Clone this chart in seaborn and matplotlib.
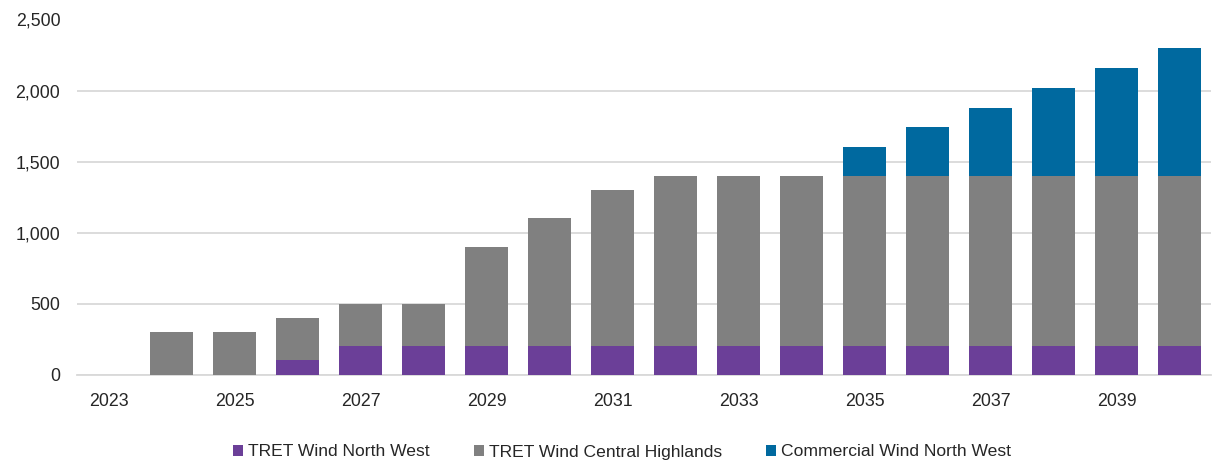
import matplotlib
matplotlib.use("Agg")
import matplotlib.pyplot as plt
from matplotlib.patches import Rectangle
from matplotlib.ticker import FuncFormatter
import pandas as pd
import seaborn as sns

# Installed wind capacity by project (MW)
years = [2023, 2024, 2025, 2026, 2027, 2028, 2029, 2030, 2031,
         2032, 2033, 2034, 2035, 2036, 2037, 2038, 2039, 2040]
tret_north_west = [0, 0, 0, 100, 200, 200, 200, 200, 200,
                   200, 200, 200, 200, 200, 200, 200, 200, 200]
tret_central_highlands = [0, 300, 300, 300, 300, 300, 700, 900, 1100,
                          1200, 1200, 1200, 1200, 1200, 1200, 1200, 1200, 1200]
commercial_north_west = [0, 0, 0, 0, 0, 0, 0, 0, 0,
                         0, 0, 0, 200, 345, 480, 620, 760, 900]

series_names = ["TRET Wind North West", "TRET Wind Central Highlands",
                "Commercial Wind North West"]
series_colors = ["#6B3F98", "#808080", "#00699F"]

df = pd.DataFrame({
    "year": [str(y) for y in years],
    "nw": tret_north_west,
    "ch": tret_central_highlands,
    "cm": commercial_north_west,
})
# cumulative stack heights, drawn from the tallest layer down
df["lvl1"] = df["nw"]
df["lvl2"] = df["nw"] + df["ch"]
df["lvl3"] = df["lvl2"] + df["cm"]

sns.set_theme(style="white")
plt.rcParams["font.family"] = ["Liberation Sans", "DejaVu Sans"]
text_color = "#262626"

fig = plt.figure(figsize=(12.12, 4.62), dpi=100)
ax = fig.add_axes([77 / 1212, 1 - 374.7 / 462, 1134 / 1212, (374.7 - 19.5) / 462])

order = df["year"].tolist()
for col, color in zip(["lvl3", "lvl2", "lvl1"], series_colors[::-1]):
    sns.barplot(data=df, x="year", y=col, order=order, color=color,
                width=0.68, linewidth=0, saturation=1, ax=ax, zorder=3)

ax.set_ylim(0, 2500)
ax.set_xlim(-0.5, len(years) - 0.5)
ax.set_yticks([0, 500, 1000, 1500, 2000, 2500])
ax.yaxis.set_major_formatter(FuncFormatter(lambda v, p: f"{int(v):,}"))
ax.set_xticks(range(0, len(years), 2))
ax.set_xticklabels([str(y) for y in years[::2]])

ax.grid(axis="y", color="#D9D9D9", linewidth=1.3, zorder=0)
ax.set_axisbelow(True)
for side in ["left", "right", "top"]:
    ax.spines[side].set_visible(False)
ax.spines["bottom"].set_color("#D9D9D9")
ax.spines["bottom"].set_linewidth(1.3)

ax.tick_params(axis="y", length=0, pad=12, labelsize=12.8, labelcolor=text_color)
ax.tick_params(axis="x", length=0, pad=13, labelsize=12.8, labelcolor=text_color)
ax.set_xlabel("")
ax.set_ylabel("")

handles = [Rectangle((0, 0), 1, 1, facecolor=c, edgecolor="none") for c in series_colors]
fig.legend(handles, series_names, loc="center", bbox_to_anchor=(622 / 1212, 1 - 452 / 462),
           ncol=3, frameon=False, fontsize=12.6, handlelength=0.58, handleheight=0.58,
           handletextpad=0.3, columnspacing=2.5, labelcolor=text_color)

fig.savefig("out.png", dpi=100)
